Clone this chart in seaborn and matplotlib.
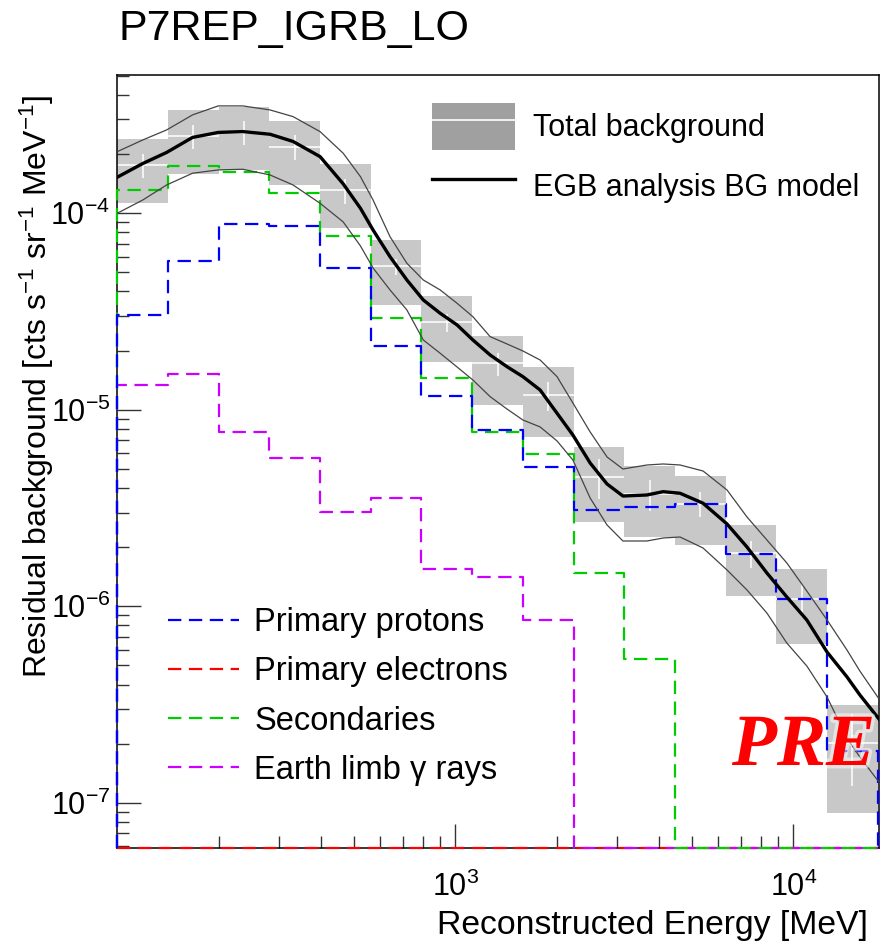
import numpy as np
import pandas as pd
import matplotlib
matplotlib.use("Agg")
import matplotlib.pyplot as plt
import seaborn as sns
from matplotlib.lines import Line2D
from matplotlib.patches import Patch
from matplotlib.ticker import FixedLocator, LogLocator, NullFormatter
import matplotlib.patheffects as pe

# ---------------- data ----------------
bin_edges = [100.0, 141.25, 199.53, 281.84, 398.11, 562.34, 794.33, 1122.0,
             1584.9, 2238.7, 3162.3, 4466.8, 6309.6, 8912.5, 12589.0, 17783.0]

protons = [3.03e-5, 5.74e-5, 8.82e-5, 8.65e-5, 5.25e-5, 2.11e-5, 1.17e-5, 7.88e-6,
           5.13e-6, 3.09e-6, 3.19e-6, 3.30e-6, 1.84e-6, 1.09e-6, 1.84e-7]
electrons = [0.0, 0.0, 0.0, 0.0, 0.0, 0.0, 0.0, 0.0, 0.0, 0.0, 0.0, 0.0, 0.0, 0.0, 0.0]
secondaries = [1.32e-4, 1.73e-4, 1.62e-4, 1.27e-4, 7.69e-5, 2.92e-5, 1.45e-5, 7.7e-6,
               5.96e-6, 1.47e-6, 5.37e-7, 0.0, 0.0, 0.0, 0.0]
earth_limb = [1.34e-5, 1.52e-5, 7.74e-6, 5.71e-6, 3.03e-6, 3.56e-6, 1.55e-6, 1.41e-6,
              8.5e-7, 0.0, 0.0, 0.0, 0.0, 0.0, 0.0]

total_bg = [1.756e-4, 2.47e-4, 2.574e-4, 2.18e-4, 1.31e-4, 5.36e-5, 2.78e-5, 1.72e-5,
            1.187e-5, 4.56e-6, 3.72e-6, 3.33e-6, 1.86e-6, 1.09e-6, 2.02e-7]
total_sys = [6.32e-5, 8.85e-5, 9.13e-5, 7.8e-5, 4.7e-5, 1.95e-5, 1.03e-5, 6.6e-6,
             4.57e-6, 1.87e-6, 1.46e-6, 1.27e-6, 7.3e-7, 4.5e-7, 1.13e-7]
total_stat = [2.5e-5, 3.5e-5, 3.6e-5, 3.1e-5, 1.9e-5, 5.0e-6, 3.0e-6, 2.3e-6,
              1.96e-6, 1.04e-6, 6.5e-7, 4.9e-7, 2.9e-7, 2.06e-7, 8.0e-8]

model_energy = [100, 119, 140, 167, 199, 235, 283, 331, 398, 466, 524, 571, 641, 719,
                804, 902, 1012, 1127, 1268, 1422, 1585, 1782, 2000, 2228, 2506, 2812,
                3133, 3690, 4121, 4624, 5408, 6368, 7295, 8356, 9572, 10965, 12589,
                14421, 15740, 18030]
model_mid = [1.525e-4, 1.791e-4, 2.039e-4, 2.431e-4, 2.577e-4, 2.602e-4, 2.523e-4, 2.319e-4,
             1.941e-4, 1.41e-4, 1.06e-4, 8.22e-5, 6.01e-5, 4.575e-5, 3.62e-5, 3.098e-5,
             2.702e-5, 2.266e-5, 1.90e-5, 1.657e-5, 1.474e-5, 1.261e-5, 9.60e-6, 7.44e-6,
             5.36e-6, 4.19e-6, 3.64e-6, 3.685e-6, 3.83e-6, 3.76e-6, 3.345e-6, 2.623e-6,
             2.003e-6, 1.477e-6, 1.115e-6, 8.52e-7, 5.85e-7, 4.37e-7, 3.54e-7, 2.64e-7]
model_hi = [2.058e-4, 2.36e-4, 2.654e-4, 3.165e-4, 3.516e-4, 3.516e-4, 3.354e-4, 3.102e-4,
            2.602e-4, 2.019e-4, 1.536e-4, 1.168e-4, 7.60e-5, 5.566e-5, 4.575e-5, 4.071e-5,
            3.483e-5, 2.977e-5, 2.355e-5, 2.162e-5, 1.991e-5, 1.792e-5, 1.474e-5, 1.083e-5,
            7.71e-6, 5.75e-6, 4.996e-6, 5.236e-6, 5.298e-6, 5.236e-6, 4.88e-6, 3.906e-6,
            2.848e-6, 2.175e-6, 1.661e-6, 1.196e-6, 8.52e-7, 5.99e-7, 4.685e-7, 3.334e-7]
model_lo = [1.0e-4, 1.168e-4, 1.393e-4, 1.598e-4, 1.661e-4, 1.674e-4, 1.566e-4, 1.393e-4,
            1.124e-4, 9.03e-5, 6.82e-5, 5.267e-5, 4.071e-5, 3.22e-5, 2.266e-5, 1.939e-5,
            1.651e-5, 1.418e-5, 1.166e-5, 1.009e-5, 8.87e-6, 8.18e-6, 6.94e-6, 5.55e-6,
            3.557e-6, 2.593e-6, 2.149e-6, 2.149e-6, 2.226e-6, 2.252e-6, 1.98e-6, 1.53e-6,
            1.211e-6, 9.24e-7, 6.5e-7, 4.97e-7, 3.454e-7, 2.137e-7, 1.71e-7, 1.261e-7]

hist_labels = ["Primary protons", "Primary electrons", "Secondaries", "Earth limb \u03b3 rays"]
hist_colors = ["#0000ff", "#ff0000", "#00cc00", "#cc00ff"]

title_text = "P7REP_IGRB_LO"
xlabel_text = "Reconstructed Energy [MeV]"
ylabel_text = r"Residual background [cts s$^{-1}$ sr$^{-1}$ MeV$^{-1}$]"
stamp_text = "PRE"

XMIN, XMAX = 100.0, 17970.0
YMIN, YMAX = 5.87e-8, 5.05e-4

# ---------------- style ----------------
plt.rcParams["font.family"] = ["Liberation Sans", "DejaVu Sans"]
plt.rcParams["mathtext.fontset"] = "custom"
plt.rcParams["mathtext.rm"] = "Liberation Sans"
plt.rcParams["mathtext.it"] = "Liberation Sans:italic"
plt.rcParams["mathtext.bf"] = "Liberation Sans:bold"
plt.rcParams["axes.unicode_minus"] = False

fig = plt.figure(figsize=(8.81, 9.42), dpi=100)
ax = fig.add_axes([117.3 / 881, 1 - 848.3 / 942, 762 / 881, 773.3 / 942])
ax.set_xscale("log")
ax.set_yscale("log")

edges = np.array(bin_edges)
lefts = edges[:-1]
widths = np.diff(edges)
centers = np.sqrt(edges[:-1] * edges[1:])
tot = np.array(total_bg)
sys_ = np.array(total_sys)
stat = np.array(total_stat)

# total background boxes
ax.bar(lefts, 2 * sys_, width=widths, bottom=tot - sys_, align="edge",
       color="#c8c8c8", linewidth=0, zorder=1)
ax.hlines(tot, edges[:-1], edges[1:], color="white", lw=1.1, zorder=1.5)
ax.vlines(centers, tot - stat, tot + stat, color="white", lw=1.1, zorder=1.5)

# stepped component histograms
def step_frame(vals):
    v = np.maximum(np.array(vals, dtype=float), YMIN)
    x = np.concatenate([[edges[0]], edges[:-1], [edges[-1], edges[-1]]])
    y = np.concatenate([[YMIN], v, [v[-1], YMIN]])
    return pd.DataFrame({"E": x, "bg": y})

order = [1, 3, 2, 0]
series = [protons, electrons, secondaries, earth_limb]
for i in order:
    df = step_frame(series[i])
    sns.lineplot(data=df, x="E", y="bg", ax=ax, color=hist_colors[i], lw=1.6,
                 linestyle=(0, (6, 3.4)), drawstyle="steps-post",
                 estimator=None, sort=False, legend=False, zorder=3, clip_on=False)

# model curves
mdf = pd.DataFrame({"E": model_energy, "mid": model_mid, "hi": model_hi, "lo": model_lo})
for col, c, w, z in [("hi", "#444444", 0.9, 4), ("lo", "#444444", 0.9, 4), ("mid", "black", 2.4, 5)]:
    sns.lineplot(data=mdf, x="E", y=col, ax=ax, color=c, lw=w, estimator=None,
                 sort=False, legend=False, zorder=z, solid_joinstyle="round",
                 solid_capstyle="round")

ax.set_xlim(XMIN, XMAX)
ax.set_ylim(YMIN, YMAX)

# ticks
ax.xaxis.set_major_locator(FixedLocator([1e3, 1e4]))
ax.xaxis.set_minor_locator(LogLocator(base=10, subs=np.arange(2, 10), numticks=20))
ax.xaxis.set_minor_formatter(NullFormatter())
ax.yaxis.set_major_locator(FixedLocator([1e-7, 1e-6, 1e-5, 1e-4]))
ax.yaxis.set_minor_locator(LogLocator(base=10, subs=np.arange(2, 10), numticks=20))
ax.yaxis.set_minor_formatter(NullFormatter())
ax.tick_params(which="both", direction="in", top=False, right=False, color="#333333", width=1.0)
ax.tick_params(which="major", length=17, labelsize=22)
ax.tick_params(which="minor", length=8.5)
ax.tick_params(axis="x", which="major", pad=17)
ax.tick_params(axis="y", which="major", pad=5)
for s in ax.spines.values():
    s.set_linewidth(1.1)
    s.set_color("black")
    s.set_zorder(2.5)

# axis labels
ax.set_xlabel(xlabel_text, fontsize=24.3, ha="right", va="top")
ax.xaxis.set_label_coords((868 - 117.3) / 762, (848.3 - 910) / 773.3)
ax.set_ylabel(ylabel_text, fontsize=23, ha="right", va="center")
ax.yaxis.set_label_coords((37 - 117.3) / 762, (848.3 - 95) / 773.3)

# title
fig.text(118 / 881, 1 - 39.5 / 942, title_text, fontsize=31, ha="left", va="baseline")

# legends
h_tot = (Patch(facecolor="#a0a0a0", edgecolor="none"), Line2D([], [], color="white", lw=1.2))
h_mod = Line2D([], [], color="black", lw=2.4)
leg1 = ax.legend([h_tot, h_mod], ["Total background", "EGB analysis BG model"],
                 loc="upper left", bbox_to_anchor=((432 - 117.3) / 762, (848.3 - 103) / 773.3),
                 frameon=False, fontsize=22, handlelength=2.72, handleheight=1.99,
                 handletextpad=0.57, labelspacing=0.42, borderpad=0, borderaxespad=0)
ax.add_artist(leg1)

h_hist = [Line2D([], [], color=c, lw=1.6, linestyle=(0, (6, 3.4))) for c in hist_colors]
leg2 = ax.legend(h_hist, hist_labels, loc="upper left",
                 bbox_to_anchor=((168 - 117.3) / 762, (848.3 - 607) / 773.3),
                 frameon=False, fontsize=23.5, handlelength=2.19, handletextpad=0.45,
                 labelspacing=0.56, borderpad=0, borderaxespad=0)

# preliminary stamp
fig.text(732 / 881, 1 - 765 / 942, stamp_text, fontsize=53, color="#ff0000",
         family="Liberation Serif", style="italic", fontweight="bold", ha="left",
         va="baseline", zorder=10,
         path_effects=[pe.withStroke(linewidth=5, foreground="white", alpha=0.5)])

fig.savefig("out.png", dpi=100)
